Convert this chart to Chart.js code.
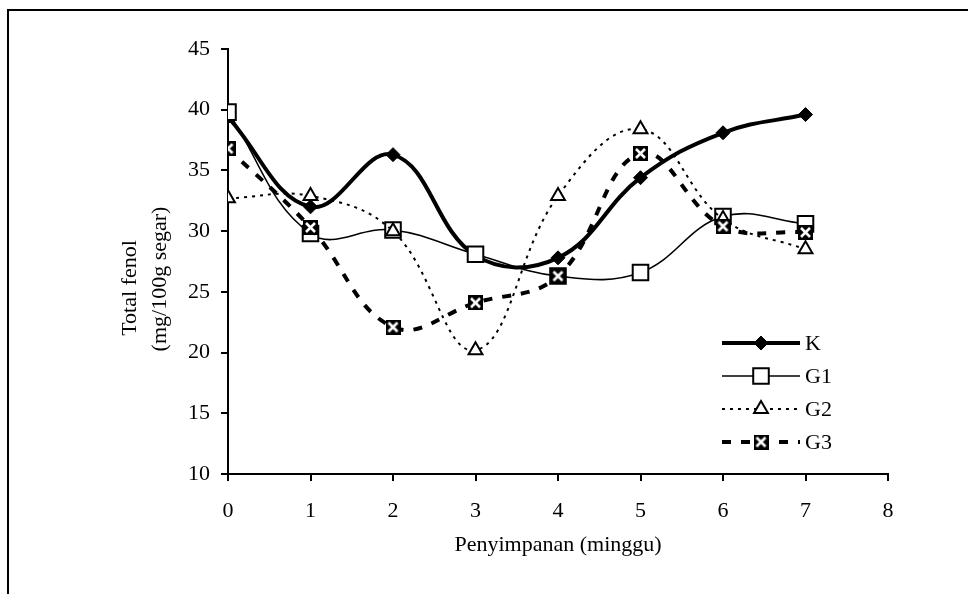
<!DOCTYPE html>
<html>
<head>
<meta charset="utf-8">
<script src="https://cdn.jsdelivr.net/npm/chart.js@4.4.1/dist/chart.umd.min.js"></script>
<style>
  html, body { margin: 0; padding: 0; background: #fff; }
  #wrap { position: relative; width: 968px; height: 594px; }
</style>
</head>
<body>
<div id="wrap"><canvas id="fenolChart" width="968" height="594"></canvas></div>
<script>
// total fenol per minggu penyimpanan
const weeks = [0, 1, 2, 3, 4, 5, 6, 7];
const seriesNames = ['K', 'G1', 'G2', 'G3'];
const valuesK  = [39.4, 32.0, 36.3, 28.0, 27.8, 34.4, 38.1, 39.6];
const valuesG1 = [39.8, 29.8, 30.1, 28.1, 26.3, 26.6, 31.2, 30.6];
const valuesG2 = [32.7, 32.9, 30.0, 20.2, 32.9, 38.4, 31.0, 28.5];
const valuesG3 = [36.8, 30.3, 22.1, 24.1, 26.3, 36.4, 30.4, 29.9];
const xTickRange = [0, 8];
const yTickRange = [10, 45];
const xTitle = 'Penyimpanan (minggu)';
const yTitle = ['Total fenol', '(mg/100g segar)'];

const FONT = "'Liberation Serif', 'Times New Roman', serif";

function toPoints(vals) {
  return weeks.map((w, i) => ({ x: w, y: vals[i] }));
}

// black box with white cross, like the excel marker
function crossBox(size) {
  const c = document.createElement('canvas');
  c.width = size; c.height = size;
  const g = c.getContext('2d');
  g.fillStyle = '#000';
  g.fillRect(0, 0, size, size);
  g.strokeStyle = '#fff';
  g.lineWidth = 2.6;
  g.beginPath();
  g.moveTo(3, 3); g.lineTo(size - 3, size - 3);
  g.moveTo(size - 3, 3); g.lineTo(3, size - 3);
  g.stroke();
  return c;
}

const frame = {
  id: 'frame',
  beforeDraw(chart) {
    const ctx = chart.ctx;
    ctx.save();
    ctx.strokeStyle = '#000';
    ctx.lineWidth = 2;
    ctx.beginPath();
    ctx.moveTo(8, chart.height);
    ctx.lineTo(8, 10);
    ctx.lineTo(chart.width, 10);
    ctx.stroke();
    ctx.restore();
  }
};

const yTitlePlugin = {
  id: 'yTitle',
  afterDraw(chart) {
    const ctx = chart.ctx;
    const spots = [[130, 288], [160, 279]];
    yTitle.forEach((line, i) => {
      ctx.save();
      ctx.fillStyle = '#000';
      ctx.font = '22px ' + FONT;
      ctx.textAlign = 'center';
      ctx.textBaseline = 'middle';
      ctx.translate(spots[i][0], spots[i][1]);
      ctx.rotate(-Math.PI / 2);
      ctx.fillText(line, 0, 0);
      ctx.restore();
    });
  }
};

// legend with line sample + marker, drawn from dataset styles
const lineLegend = {
  id: 'lineLegend',
  afterDraw(chart) {
    const ctx = chart.ctx;
    const x0 = 722, x1 = 800, top = 343, step = 33;
    chart.data.datasets.forEach((ds, i) => {
      const y = top + i * step;
      ctx.save();
      ctx.strokeStyle = ds.borderColor;
      ctx.lineWidth = ds.borderWidth;
      ctx.setLineDash(ds.borderDash || []);
      ctx.beginPath();
      ctx.moveTo(x0, y);
      ctx.lineTo(x1, y);
      ctx.stroke();
      ctx.setLineDash([]);
      ctx.fillStyle = ds.pointBackgroundColor;
      ctx.strokeStyle = ds.pointBorderColor;
      ctx.lineWidth = ds.pointBorderWidth;
      Chart.helpers.drawPoint(ctx, {
        pointStyle: ds.pointStyle,
        radius: ds.pointRadius,
        borderWidth: ds.pointBorderWidth,
        rotation: 0
      }, (x0 + x1) / 2, y);
      ctx.fillStyle = '#000';
      ctx.font = '22px ' + FONT;
      ctx.textAlign = 'left';
      ctx.textBaseline = 'middle';
      ctx.fillText(ds.label, x1 + 5, y + 1);
      ctx.restore();
    });
  }
};

new Chart(document.getElementById('fenolChart'), {
  type: 'line',
  data: {
    datasets: [
      {
        label: seriesNames[0],
        data: toPoints(valuesK),
        borderColor: '#000',
        borderWidth: 4,
        pointStyle: 'rectRot',
        pointRadius: 7,
        pointBackgroundColor: '#000',
        pointBorderColor: '#000',
        pointBorderWidth: 1,
        order: 4
      },
      {
        label: seriesNames[1],
        data: toPoints(valuesG1),
        borderColor: '#000',
        borderWidth: 1.6,
        pointStyle: 'rect',
        pointRadius: 11,
        pointBackgroundColor: '#fff',
        pointBorderColor: '#000',
        pointBorderWidth: 2,
        order: 3
      },
      {
        label: seriesNames[2],
        data: toPoints(valuesG2),
        borderColor: '#000',
        borderWidth: 2,
        borderDash: [3, 5],
        pointStyle: 'triangle',
        pointRadius: 8,
        pointBackgroundColor: '#fff',
        pointBorderColor: '#000',
        pointBorderWidth: 2,
        order: 2
      },
      {
        label: seriesNames[3],
        data: toPoints(valuesG3),
        borderColor: '#000',
        borderWidth: 4,
        borderDash: [9, 10],
        pointStyle: crossBox(15),
        pointRadius: 8,
        pointBackgroundColor: '#000',
        pointBorderColor: '#000',
        pointBorderWidth: 0,
        order: 1
      }
    ]
  },
  options: {
    responsive: false,
    animation: false,
    events: [],
    layout: { padding: { left: 0, top: 49, right: 80, bottom: 0 } },
    elements: {
      line: { tension: 0.4, fill: false }
    },
    plugins: {
      legend: { display: false },
      tooltip: { enabled: false }
    },
    scales: {
      x: {
        type: 'linear',
        min: xTickRange[0],
        max: xTickRange[1],
        afterFit: s => { s.height = 120; },
        ticks: {
          stepSize: 1,
          color: '#000',
          padding: 17,
          font: { family: FONT, size: 22 }
        },
        grid: {
          drawOnChartArea: false,
          color: '#000',
          lineWidth: 2,
          tickLength: 7
        },
        border: { display: true, color: '#000', width: 2 },
        title: {
          display: true,
          text: xTitle,
          color: '#000',
          font: { family: FONT, size: 22 },
          padding: { top: 0, bottom: 36 }
        }
      },
      y: {
        min: yTickRange[0],
        max: yTickRange[1],
        afterFit: s => { s.width = 228; },
        ticks: {
          stepSize: 5,
          color: '#000',
          padding: 11,
          font: { family: FONT, size: 22 }
        },
        grid: {
          drawOnChartArea: false,
          color: '#000',
          lineWidth: 2,
          tickLength: 7
        },
        border: { display: true, color: '#000', width: 2 }
      }
    }
  },
  plugins: [frame, yTitlePlugin, lineLegend]
});
</script>
</body>
</html>
